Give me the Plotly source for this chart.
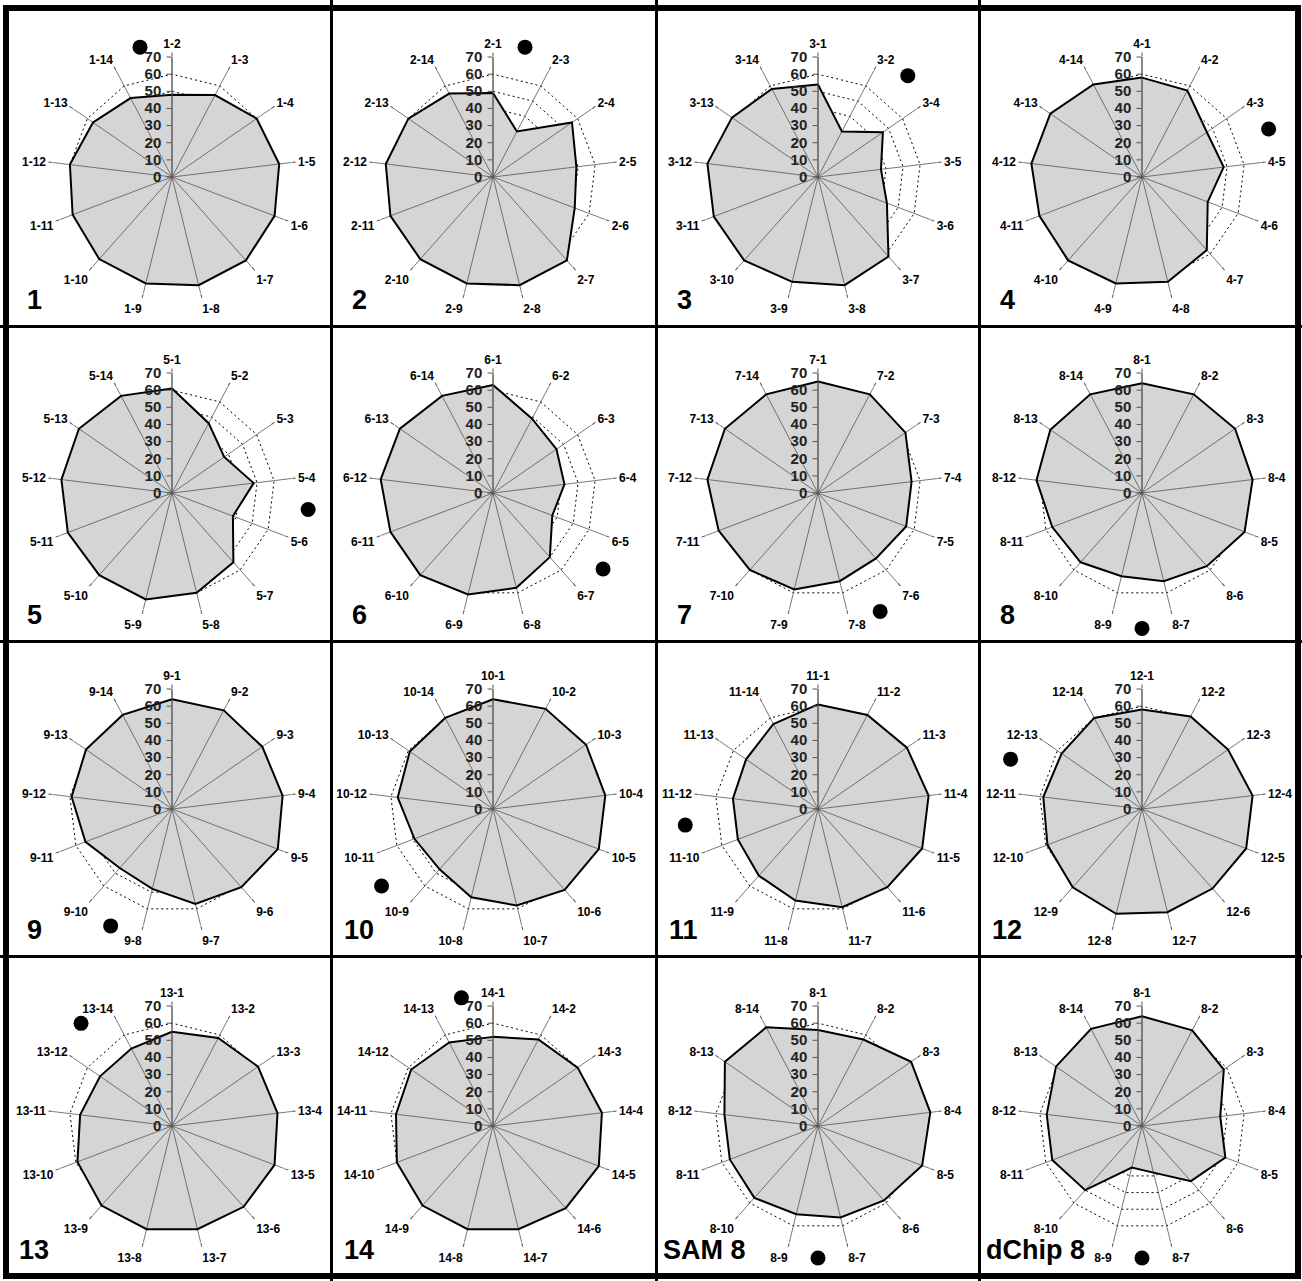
import plotly.graph_objects as go

W, H = 1302, 1281

# ---------------- data ----------------
panel_titles = ["1", "2", "3", "4", "5", "6", "7", "8",
                "9", "10", "11", "12", "13", "14", "SAM 8", "dChip 8"]
panel_self = [1, 2, 3, 4, 5, 6, 7, 8, 9, 10, 11, 12, 13, 14, 8, 8]

values_1 = [48, 54, 60, 63, 64, 65, 65, 64, 64, 62, 60, 56, 52]
values_2 = [49, 30, 56, 49, 51, 65, 65, 64, 64, 64, 63, 60, 55]
values_3 = [54, 30, 46, 37, 43, 62, 65, 63, 65, 65, 65, 61, 58]
values_4 = [58, 57, 46, 48, 41, 57, 63, 64, 65, 64, 65, 65, 61]
values_5 = [61, 46, 37, 48, 38, 54, 60, 64, 64, 65, 65, 66, 64]
values_6 = [63, 49, 45, 42, 37, 50, 57, 61, 64, 64, 66, 66, 64]
values_7 = [65, 65, 62, 55, 55, 51, 53, 58, 60, 62, 65, 66, 65]
values_8 = [64, 65, 66, 65, 64, 57, 53, 50, 54, 56, 62, 65, 65]
values_9 = [64, 65, 64, 65, 66, 61, 57, 48, 46, 54, 59, 61, 62]
values_10 = [64, 66, 66, 66, 66, 63, 58, 53, 47, 49, 56, 59, 60]
values_11 = [61, 62, 63, 65, 65, 61, 59, 55, 52, 50, 50, 51, 56]
values_12 = [58, 61, 61, 65, 65, 62, 62, 63, 61, 59, 58, 57, 60]
values_13 = [55, 58, 61, 62, 64, 63, 62, 62, 62, 59, 54, 51, 51]
values_14 = [52, 57, 60, 64, 66, 64, 62, 62, 62, 60, 57, 58, 55]
values_sam8 = [56, 57, 66, 66, 65, 58, 55, 53, 56, 55, 55, 66, 65]
values_dchip8 = [64, 63, 58, 46, 52, 43, 28, 25, 50, 56, 56, 61, 64]

all_values = [values_1, values_2, values_3, values_4, values_5, values_6,
              values_7, values_8, values_9, values_10, values_11, values_12,
              values_13, values_14, values_sam8, values_dchip8]

# radial position of the black "self" marker in each panel
dot_radius = [78, 78, 79, 79, 80, 78, 78, 79, 77, 79, 78, 82, 80, 77, 77, 77]

radial_ticks = [0, 10, 20, 30, 40, 50, 60, 70]
n_groups = 14
overlay_max = 90    # radial range of the marker overlay

# ---------------- layout geometry ----------------
col_edges = [5, 330, 655, 978, 1298]
row_edges = [8, 325, 640, 955, 1275]
col_centers = [172, 493, 818, 1142]
row_centers = [177, 493, 809, 1126]
R = 120  # pixel radius of the 70 ring

FONT = "Liberation Sans, Arial, sans-serif"

fig = go.Figure()
layout_polars = {}

for i, (title, s, vals) in enumerate(zip(panel_titles, panel_self, all_values)):
    row, col = divmod(i, 4)
    cx, cy = col_centers[col], row_centers[row]
    cats = [f"{s}-{j}" for j in range(1, n_groups + 1) if j != s]
    pid = "polar" if i == 0 else f"polar{i + 1}"
    oid = f"polar{i + 17}"
    dom = dict(x=[(cx - R) / W, (cx + R) / W],
               y=[1 - (cy + R) / H, 1 - (cy - R) / H])
    R2 = R * overlay_max / radial_ticks[-1]
    dom2 = dict(x=[max(0, (cx - R2) / W), min(1, (cx + R2) / W)],
                y=[max(0, 1 - (cy + R2) / H), min(1, 1 - (cy - R2) / H)])

    # filled area
    fig.add_trace(go.Scatterpolar(
        r=vals + vals[:1], theta=cats + cats[:1], mode="lines",
        fill="toself", fillcolor="#d5d5d5",
        line=dict(color="rgba(0,0,0,0)", width=0), subplot=pid,
        showlegend=False, hoverinfo="skip"))

    # spokes over the fill
    th, rr = [], []
    for c in cats:
        th += [c, c, None]
        rr += [0, radial_ticks[-1], None]
    fig.add_trace(go.Scatterpolar(
        r=rr, theta=th, mode="lines", line=dict(color="#555555", width=0.8),
        subplot=pid, showlegend=False, hoverinfo="skip", connectgaps=False))

    # outline
    fig.add_trace(go.Scatterpolar(
        r=vals + vals[:1], theta=cats + cats[:1], mode="lines",
        line=dict(color="black", width=2), subplot=pid,
        showlegend=False, hoverinfo="skip"))

    layout_polars[pid] = dict(
        domain=dom, gridshape="linear", bgcolor="white",
        angularaxis=dict(type="category", categoryorder="array",
                         categoryarray=cats, rotation=90, direction="clockwise",
                         showgrid=False, showline=False, ticks="outside",
                         ticklen=4, tickcolor="#555555", tickwidth=1,
                         tickfont=dict(family=FONT, size=12, color="black",
                                       weight="bold")),
        radialaxis=dict(range=[0, 70.01], tickvals=radial_ticks,
                        angle=90, tickangle=90, side="counterclockwise",
                        showgrid=True, gridcolor="black", griddash="2px,3px",
                        gridwidth=1.3, showline=True, linecolor="#555555",
                        linewidth=1, ticks="outside", ticklen=5,
                        tickcolor="#555555", layer="above traces",
                        tickfont=dict(family=FONT, size=15, color="#222222",
                                      weight="bold")),
    )

    # marker dot for the missing (self) position, on an overlay polar
    pos = s - 1  # 0-based slot the self group would occupy
    theta_deg = (pos - 0.5) * 360.0 / len(cats)
    fig.add_trace(go.Scatterpolar(
        r=[dot_radius[i]], theta=[theta_deg], mode="markers",
        marker=dict(color="black", size=15), subplot=oid,
        showlegend=False, hoverinfo="skip"))
    layout_polars[oid] = dict(
        domain=dom2, bgcolor="rgba(0,0,0,0)",
        angularaxis=dict(visible=False, rotation=90, direction="clockwise"),
        radialaxis=dict(visible=False, range=[0, overlay_max]),
    )

    # panel label
    off = 20 if len(title) == 1 else (12 if len(title) == 2 else 6)
    fig.add_annotation(
        x=(col_edges[col] + off) / W, y=1 - (row_edges[row + 1] - 25) / H,
        xref="paper", yref="paper", xanchor="left", yanchor="middle",
        text=title, showarrow=False,
        font=dict(family=FONT, size=27, color="black", weight="bold"))

# frame
shapes = [dict(type="rect", xref="paper", yref="paper",
               x0=6 / W, x1=1298 / W, y0=1 - 1276 / H, y1=1 - 8 / H,
               line=dict(color="black", width=6))]
for x in col_edges[1:-1]:
    shapes.append(dict(type="line", xref="paper", yref="paper",
                       x0=(x + 1.5) / W, x1=(x + 1.5) / W, y0=0, y1=1,
                       line=dict(color="black", width=3)))
for y in row_edges[1:-1]:
    shapes.append(dict(type="line", xref="paper", yref="paper",
                       x0=0, x1=1, y0=1 - (y + 1.5) / H, y1=1 - (y + 1.5) / H,
                       line=dict(color="black", width=3)))

fig.update_layout(
    width=W, height=H, margin=dict(l=0, r=0, t=0, b=0),
    paper_bgcolor="white", showlegend=False, shapes=shapes,
    **layout_polars)

fig.write_html("out.html", config={"displayModeBar": False},
               post_script="document.body.style.margin='0';")
